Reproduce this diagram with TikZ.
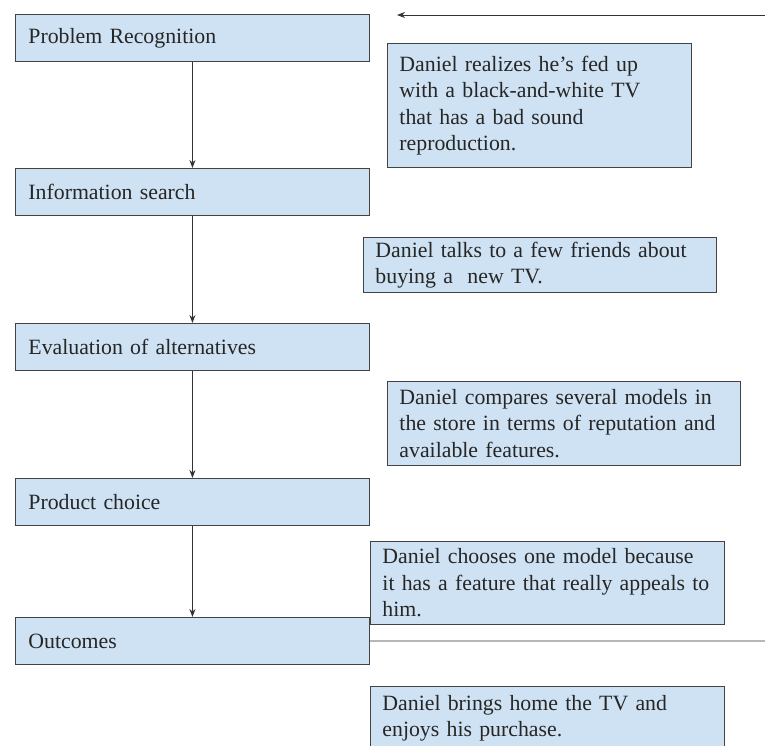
\documentclass[tikz,border=0pt]{standalone}
\usepackage{fontspec}
\setmainfont{Liberation Serif}
\usepackage{xcolor}
\usetikzlibrary{arrows.meta}
\definecolor{boxblue}{HTML}{CFE2F3}
\definecolor{boxline}{HTML}{434343}

\begin{document}
\begin{tikzpicture}[x=1pt,y=-1pt,
    font=\fontsize{21.8}{26.4}\selectfont,
    stage/.style={draw=boxline,fill=boxblue,line width=0.9pt,anchor=north west,
      minimum width=354pt,minimum height=47pt,inner xsep=13pt,text=black!85},
    note/.style={draw=boxline,fill=boxblue,line width=0.9pt,anchor=north west,
      align=left,inner xsep=12pt,text=black!85},
    flow/.style={draw=black!80,line width=0.9pt,-{Stealth[length=8pt,width=6pt]}}]
      \useasboundingbox (0,0) rectangle (765,745);
      \clip (0,0) rectangle (765,745);
      \fill[white] (0,0) rectangle (765,745);
      % stages
      \node[stage,text width=328pt] (recog) at (15,14) {Problem Recognition};
      \node[stage,text width=328pt] (search) at (15,168) {Information search};
      \node[stage,text width=328pt] (evalu) at (15,323) {Evaluation of alternatives};
      \node[stage,text width=328pt] (choice) at (15,478) {Product choice};
      \node[stage,text width=328pt] (outc) at (15,617) {Outcomes};
      % notes
      \node[note,text width=280pt,minimum height=124pt] (n1) at (387,43)
        {Daniel realizes he’s fed up\\with a black-and-white TV\\that has a bad sound\\reproduction.};
      \node[note,text width=329pt,minimum height=55pt] (n2) at (363,237)
        {Daniel talks to a few friends about\\buying a\ \ new TV.};
      \node[note,text width=329pt,minimum height=84pt] (n3) at (387,381)
        {Daniel compares several models in\\the store in terms of reputation and\\available features.};
      \node[note,text width=330pt,minimum height=83pt] (n4) at (370,541)
        {Daniel chooses one model because\\it has a feature that really appeals to\\him.};
      \node[note,text width=330pt,inner ysep=9pt] (n5) at (370,686)
        {Daniel brings home the TV and\\enjoys his purchase.\\[40pt]};
      \coordinate (fbin) at (769,15);
      \coordinate (fbtip) at (397,15);
      \coordinate (fbout) at (769,641);
      \draw[flow] (recog.south) -- (search.north);
      \draw[flow] (search.south) -- (evalu.north);
      \draw[flow] (evalu.south) -- (choice.north);
      \draw[flow] (choice.south) -- (outc.north);
      \draw[flow] (fbin) -- (fbtip);
      \draw[draw=black!80,line width=0.9pt] (outc.east) -- (fbout);
    \end{tikzpicture}
\end{document}
